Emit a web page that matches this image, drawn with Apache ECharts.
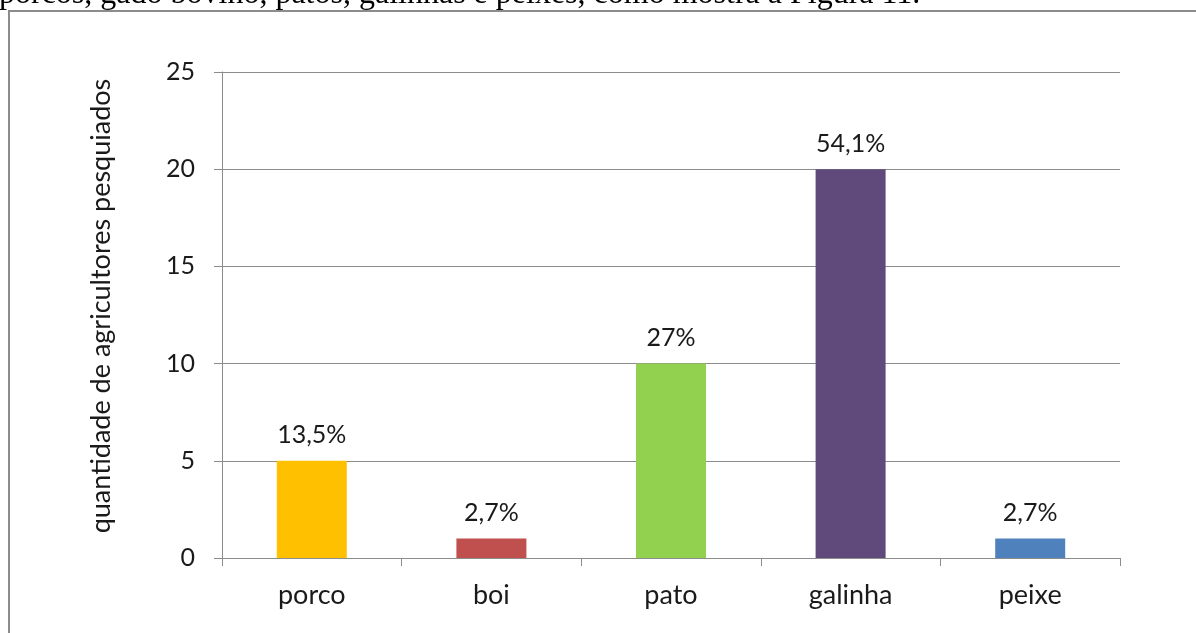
<!DOCTYPE html>
<html>
<head>
<meta charset="utf-8">
<script src="https://cdn.jsdelivr.net/npm/echarts@6/dist/echarts.min.js"></script>
<style>
  html, body { margin: 0; padding: 0; background: #fff; overflow: hidden; }
  #chart { width: 1196px; height: 633px; }
</style>
</head>
<body>
<div id="chart"></div>
<script>
// Animals raised by the surveyed farmers
const categories = ['porco', 'boi', 'pato', 'galinha', 'peixe'];
const counts = [5, 1, 10, 20, 1];
const shares = ['13,5%', '2,7%', '27%', '54,1%', '2,7%'];
const barColors = ['#FFC000', '#C0504D', '#92D050', '#604A7B', '#4F81BD'];
const yTicks = [0, 5, 10, 15, 20, 25];
const yAxisTitle = 'quantidade de agricultores pesquiados';
const leadText = 'porcos, gado bovino, patos, galinhas e peixes, como mostra a Figura 11.';

const chart = echarts.init(document.getElementById('chart'), null, { renderer: 'canvas' });
const uiFont = 'Lato, "Open Sans", sans-serif';

chart.setOption({
  animation: false,
  backgroundColor: '#fff',
  graphic: [
    {
      // last line of the paragraph above the figure
      type: 'text',
      x: -1,
      y: 11,
      style: {
        text: leadText,
        font: '32px "Liberation Serif", "Times New Roman", serif',
        fill: '#000',
        verticalAlign: 'bottom'
      }
    },
    {
      // figure frame
      type: 'rect',
      shape: { x: 9, y: 11, width: 1200, height: 640 },
      style: { fill: 'none', stroke: '#8c8c8c', lineWidth: 2 }
    },
    {
      // vertical axis title
      type: 'text',
      x: 101,
      y: 306,
      rotation: Math.PI / 2,
      style: {
        text: yAxisTitle,
        font: '27px Lato, "Open Sans", sans-serif',
        fill: '#1a1a1a',
        align: 'center',
        verticalAlign: 'middle'
      }
    }
  ],
  grid: { left: 222, right: 76, top: 72, bottom: 75 },
  xAxis: {
    type: 'category',
    data: categories,
    axisLine: { lineStyle: { color: '#8c8c8c', width: 1 } },
    axisTick: { show: true, length: 8, lineStyle: { color: '#8c8c8c' } },
    axisLabel: { color: '#1a1a1a', fontFamily: uiFont, fontSize: 27, margin: 24 }
  },
  yAxis: {
    type: 'value',
    min: 0,
    max: 25,
    interval: 5,
    axisLine: { show: true, lineStyle: { color: '#8c8c8c', width: 1 } },
    axisTick: { show: true, length: 8, lineStyle: { color: '#8c8c8c' } },
    splitLine: { show: true, lineStyle: { color: '#8c8c8c', width: 1 } },
    axisLabel: {
      color: '#1a1a1a', fontFamily: uiFont, fontSize: 25, margin: 27,
      formatter: v => (yTicks.includes(v) ? String(v) : '')
    }
  },
  series: [{
    type: 'bar',
    barWidth: 70,
    data: counts.map((v, i) => ({ value: v, itemStyle: { color: barColors[i] } })),
    label: {
      show: true,
      position: 'top',
      distance: 13,
      color: '#1a1a1a',
      fontFamily: uiFont,
      fontSize: 25,
      formatter: p => shares[p.dataIndex]
    }
  }]
});
</script>
</body>
</html>
